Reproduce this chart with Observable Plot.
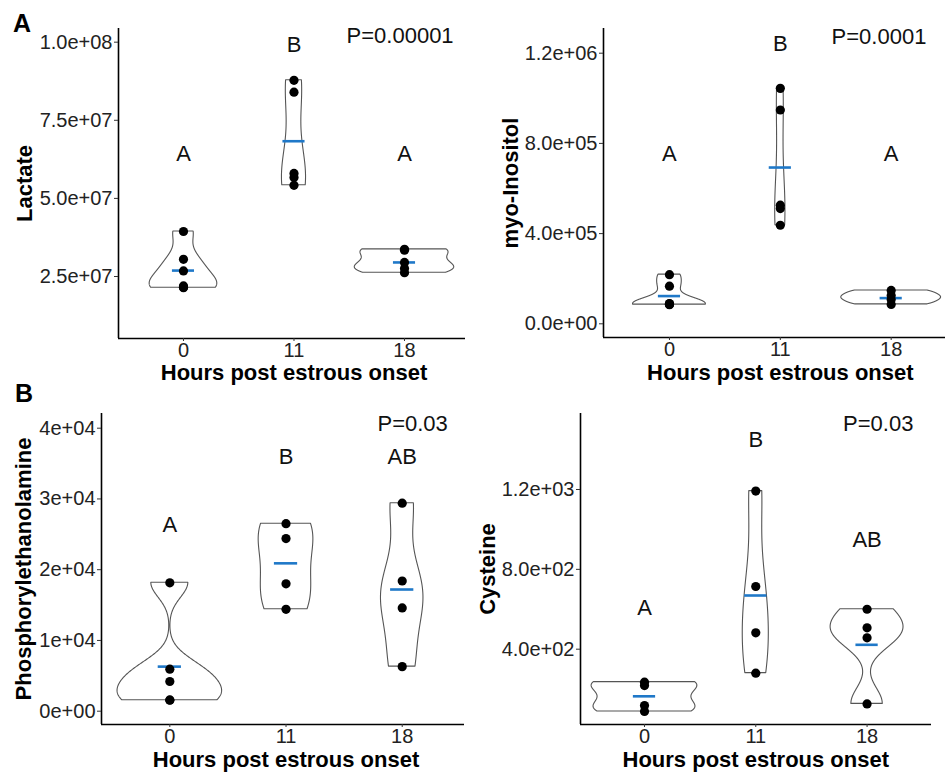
<!DOCTYPE html>
<html><head><meta charset="utf-8">
<script src="https://cdn.jsdelivr.net/npm/d3@7"></script>
<script src="https://cdn.jsdelivr.net/npm/@observablehq/plot@0.6"></script>
<style>
body{margin:0;background:#fff;}
#root{position:relative;width:945px;height:774px;overflow:hidden;font-family:"Liberation Sans",Arial,Helvetica,sans-serif;background:#fff;}
.panel{position:absolute;}
.tag{position:absolute;font-weight:bold;font-size:25px;line-height:25px;color:#000;}
</style></head><body><div id="root"></div>
<script>
// ---------- data ----------
const hours = ["0", "11", "18"];
const xTitle = "Hours post estrous onset";

// Lactate
const lactate_0h  = [3.94e7, 3.05e7, 2.68e7, 2.20e7, 2.16e7, 2.14e7];
const lactate_11h = [8.78e7, 8.40e7, 5.80e7, 5.67e7, 5.42e7];
const lactate_18h = [3.37e7, 3.34e7, 2.95e7, 2.76e7, 2.62e7];
const lactateMeans = [2.69e7, 6.83e7, 2.95e7];
const lactateLetters = ["A", "B", "A"];
const lactateLetterY = [6.41e7, 9.9e7, 6.41e7];
const lactateTicks = [2.5e7, 5.0e7, 7.5e7, 1.0e8];
const lactateTickLabels = ["2.5e+07", "5.0e+07", "7.5e+07", "1.0e+08"];
const lactateP = ["P=0.00001", 1.96, 1.02e8];

// myo-Inositol
const inositol_0h  = [2.18e5, 1.67e5, 0.90e5, 0.88e5, 0.86e5, 0.85e5];
const inositol_11h = [1.044e6, 9.48e5, 5.26e5, 5.11e5, 4.37e5];
const inositol_18h = [1.48e5, 1.26e5, 1.08e5, 0.86e5];
const inositolMeans = [1.23e5, 6.93e5, 1.14e5];
const inositolLetters = ["A", "B", "A"];
const inositolLetterY = [7.52e5, 1.24e6, 7.52e5];
const inositolTicks = [0, 4e5, 8e5, 1.2e6];
const inositolTickLabels = ["0.0e+00", "4.0e+05", "8.0e+05", "1.2e+06"];
const inositolP = ["P=0.0001", 1.89, 1.274e6];

// Phosphorylethanolamine
const pea_0h  = [18150, 5940, 4200, 1600, 1550];
const pea_11h = [26500, 24400, 18000, 14400];
const pea_18h = [29400, 18400, 14600, 6300];
const peaMeans = [6300, 20900, 17200];
const peaLetters = ["A", "B", "AB"];
const peaLetterY = [26300, 35900, 35900];
const peaTicks = [0, 1e4, 2e4, 3e4, 4e4];
const peaTickLabels = ["0e+00", "1e+04", "2e+04", "3e+04", "4e+04"];
const peaP = ["P=0.03", 2.09, 40600];

// Cysteine
const cys_0h  = [235, 218, 118, 88];
const cys_11h = [1192, 714, 482, 280];
const cys_18h = [600, 507, 457, 126];
const cysMeans = [164, 669, 422];
const cysLetters = ["A", "B", "AB"];
const cysLetterY = [605, 1446, 945];
const cysTicks = [400, 800, 1200];
const cysTickLabels = ["4.0e+02", "8.0e+02", "1.2e+03"];
const cysP = ["P=0.03", 2.1, 1530];

// ---------- helpers ----------
function kde(vals, n = 512) {
  const s = vals.slice().sort(d3.ascending);
  const sd = d3.deviation(s);
  const iqr = (d3.quantileSorted(s, 0.75) - d3.quantileSorted(s, 0.25)) / 1.34;
  let lo = Math.min(sd, iqr);
  if (!(lo > 0)) lo = sd || Math.abs(s[0]) || 1;
  const bw = 0.9 * lo * Math.pow(s.length, -0.2);
  const y0 = s[0], y1 = s[s.length - 1];
  return d3.range(n).map(k => {
    const y = y0 + (y1 - y0) * k / (n - 1);
    let d = 0;
    for (const v of s) { const z = (y - v) / bw; d += Math.exp(-0.5 * z * z); }
    return {y, d: d / (s.length * bw * Math.sqrt(2 * Math.PI))};
  });
}

const FONT = '"Liberation Sans", Arial, Helvetica, sans-serif';

function panel(cfg) {
  const groups = cfg.groups;
  const points = groups.flatMap((vals, g) => vals.map(v => ({g, v})));
  const dens = groups.map(vals => kde(vals));
  const maxD = d3.max(dens.flat(), d => d.d);
  const violin = dens.flatMap((arr, g) => arr.map(p => ({g, y: p.y, w: p.d / maxD * cfg.vw / 2})));
  const means = cfg.means.map((m, g) => ({g, m}));
  const letters = cfg.letters.map((t, g) => ({g, t, y: cfg.letterY[g]}));
  const ticks = cfg.ticks, labels = cfg.tickLabels;
  const chart = Plot.plot({
    width: cfg.width, height: cfg.height,
    marginLeft: cfg.ml, marginRight: cfg.mr, marginTop: cfg.mt, marginBottom: cfg.mb,
    style: {fontFamily: FONT, fontSize: "20px", color: "#222", background: "transparent", overflow: "visible"},
    x: {domain: cfg.xDomain, axis: null},
    y: {domain: cfg.yDomain, axis: null},
    marks: [
      Plot.areaX(violin, {x1: d => d.g - d.w, x2: d => d.g + d.w, y: "y", z: "g", fill: "white", stroke: "#555", strokeWidth: 1.1}),
      Plot.ruleY(means, {y: "m", x1: d => d.g - 0.1, x2: d => d.g + 0.1, stroke: "#1f78c8", strokeWidth: 2.6}),
      Plot.dot(points, {x: "g", y: "v", r: 4.6, fill: "#000", stroke: "none"}),
      Plot.text(letters, {x: "g", y: "y", text: "t", fontSize: 22, fill: "#111"}),
      Plot.text([cfg.p], {x: d => d[1], y: d => d[2], text: d => d[0], fontSize: 22, fill: "#111"}),
      Plot.ruleX([cfg.xDomain[0]], {stroke: "#000", strokeWidth: 1.6}),
      Plot.ruleY([cfg.yDomain[0]], {stroke: "#000", strokeWidth: 1.6}),
      Plot.axisY({ticks, tickFormat: d => labels[ticks.indexOf(d)], tickSize: 4, tickPadding: 2, fontSize: 20, label: null, stroke: "#333"}),
      Plot.axisX({ticks: [0, 1, 2], tickFormat: d => hours[d], tickSize: 3, tickPadding: 1, fontSize: 20, label: null, stroke: "#333"}),
      Plot.text([cfg.yTitle], {frameAnchor: "left", dx: -cfg.yTitleOffset, rotate: -90, textAnchor: "middle", lineAnchor: "middle", fontSize: 22, fontWeight: "bold", fill: "#000"}),
      Plot.text([xTitle], {x: () => 1, frameAnchor: "bottom", dy: cfg.xTitleOffset, textAnchor: "middle", lineAnchor: "middle", fontSize: 22, fontWeight: "bold", fill: "#000"})
    ]
  });
  chart.classList.add("panel");
  chart.style.left = cfg.left + "px";
  chart.style.top = cfg.top + "px";
  return chart;
}

const root = document.getElementById("root");
root.appendChild(panel({
  left: 0, top: 0, width: 470, height: 390, ml: 118, mr: 5, mt: 28, mb: 52,
  xDomain: [-0.588, 2.552], yDomain: [5.16e6, 1.0438e8], vw: 0.9,
  groups: [lactate_0h, lactate_11h, lactate_18h], means: lactateMeans,
  letters: lactateLetters, letterY: lactateLetterY, ticks: lactateTicks, tickLabels: lactateTickLabels,
  p: lactateP, yTitle: "Lactate", yTitleOffset: 94, xTitleOffset: 34
}));
root.appendChild(panel({
  left: 470, top: 0, width: 475, height: 390, ml: 133, mr: 0, mt: 28, mb: 53,
  xDomain: [-0.595, 2.49], yDomain: [-6.07e4, 1.3095e6], vw: 0.9,
  groups: [inositol_0h, inositol_11h, inositol_18h], means: inositolMeans,
  letters: inositolLetters, letterY: inositolLetterY, ticks: inositolTicks, tickLabels: inositolTickLabels,
  p: inositolP, yTitle: "myo-Inositol", yTitleOffset: 93, xTitleOffset: 35
}));
root.appendChild(panel({
  left: 0, top: 390, width: 470, height: 384, ml: 101, mr: 6, mt: 23, mb: 50,
  xDomain: [-0.588, 2.536], yDomain: [-1880, 42077], vw: 0.9,
  groups: [pea_0h, pea_11h, pea_18h], means: peaMeans,
  letters: peaLetters, letterY: peaLetterY, ticks: peaTicks, tickLabels: peaTickLabels,
  p: peaP, yTitle: "Phosphorylethanolamine", yTitleOffset: 78, xTitleOffset: 35
}));
root.appendChild(panel({
  left: 470, top: 390, width: 475, height: 384, ml: 110, mr: 14, mt: 23, mb: 50,
  xDomain: [-0.575, 2.579], yDomain: [22.8, 1580.7], vw: 0.95,
  groups: [cys_0h, cys_11h, cys_18h], means: cysMeans,
  letters: cysLetters, letterY: cysLetterY, ticks: cysTicks, tickLabels: cysTickLabels,
  p: cysP, yTitle: "Cysteine", yTitleOffset: 93, xTitleOffset: 35
}));

const tagA = document.createElement("div");
tagA.className = "tag"; tagA.textContent = "A"; tagA.style.left = "13px"; tagA.style.top = "11px";
root.appendChild(tagA);
const tagB = document.createElement("div");
tagB.className = "tag"; tagB.textContent = "B"; tagB.style.left = "15px"; tagB.style.top = "381px";
root.appendChild(tagB);
</script>
</body></html>
